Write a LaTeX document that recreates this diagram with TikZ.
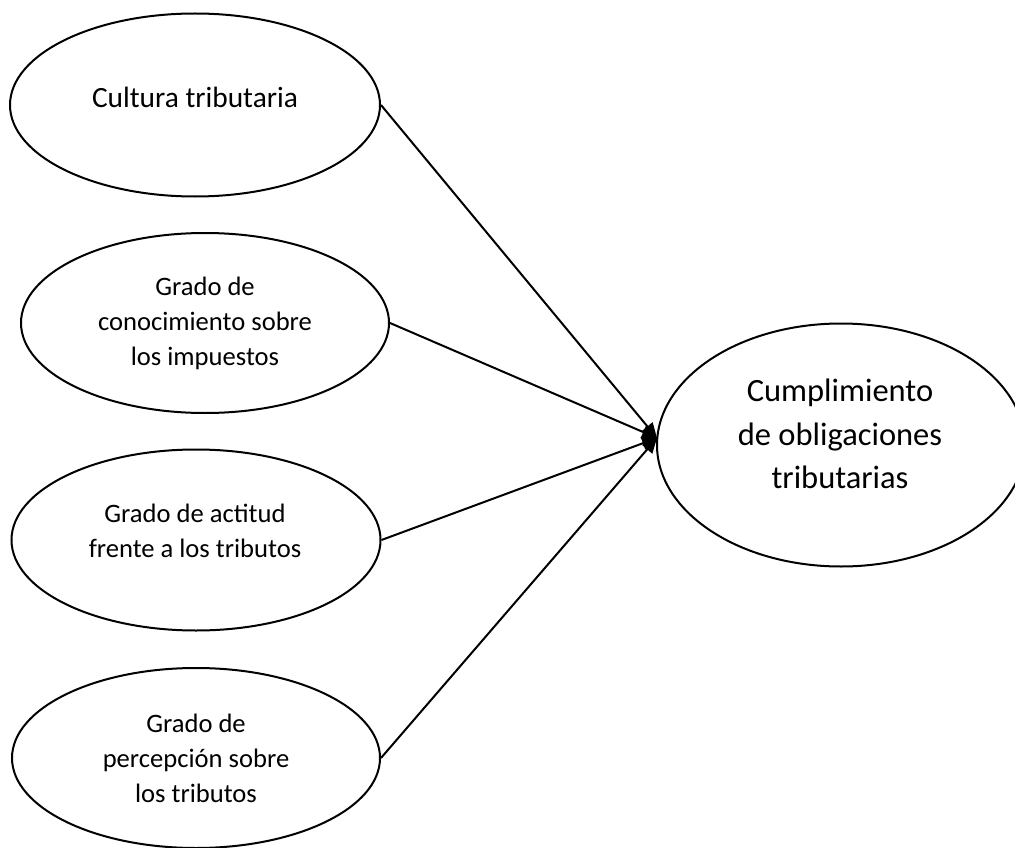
\documentclass[tikz,border=0pt]{standalone}
\usepackage{fontspec}
\setmainfont{Carlito}
\usetikzlibrary{shapes.geometric,arrows.meta}
\begin{document}
\begin{tikzpicture}[x=1pt,y=-1pt,
  oval/.style={draw,ellipse,line width=2pt,inner sep=0pt,minimum width=#1},
  smalltxt/.style={align=center,font=\fontsize{26.6}{35}\selectfont},
  toptxt/.style={align=center,font=\fontsize{29.4}{35}\selectfont},
  bigtxt/.style={align=center,font=\fontsize{32.5}{43.5}\selectfont},
  conn/.style={line width=2pt,-{Triangle[length=15pt,width=13pt]}}]
\useasboundingbox (0,0) rectangle (1015,848);
\node[oval=370pt,minimum height=183pt] (c1) at (195,105) {};
\node[oval=368pt,minimum height=180pt] (c2) at (205,323) {};
\node[oval=369pt,minimum height=181pt] (c3) at (196,540) {};
\node[oval=368pt,minimum height=180pt] (c4) at (196,758) {};
\node[oval=368pt,minimum height=243pt] (c5) at (841,445) {};
\node[toptxt] (t1) at (195,97) {Cultura tributaria};
\node[smalltxt] (t2) at (205,323) {Grado de\\conocimiento sobre\\los impuestos};
\node[smalltxt] (t3) at (195,531) {Grado de actitud\\frente a los tributos};
\node[smalltxt] (t4) at (196,758) {Grado de\\percepción sobre\\los tributos};
\node[bigtxt] (t5) at (840,434) {Cumplimiento\\de obligaciones\\tributarias};
\coordinate (tip) at (657,438);
\draw[conn] (c1.east) -- (tip);
\draw[conn] (c2.east) -- (tip);
\draw[conn] (c3.east) -- (tip);
\draw[conn] (c4.east) -- (tip);
\end{tikzpicture}
\end{document}
